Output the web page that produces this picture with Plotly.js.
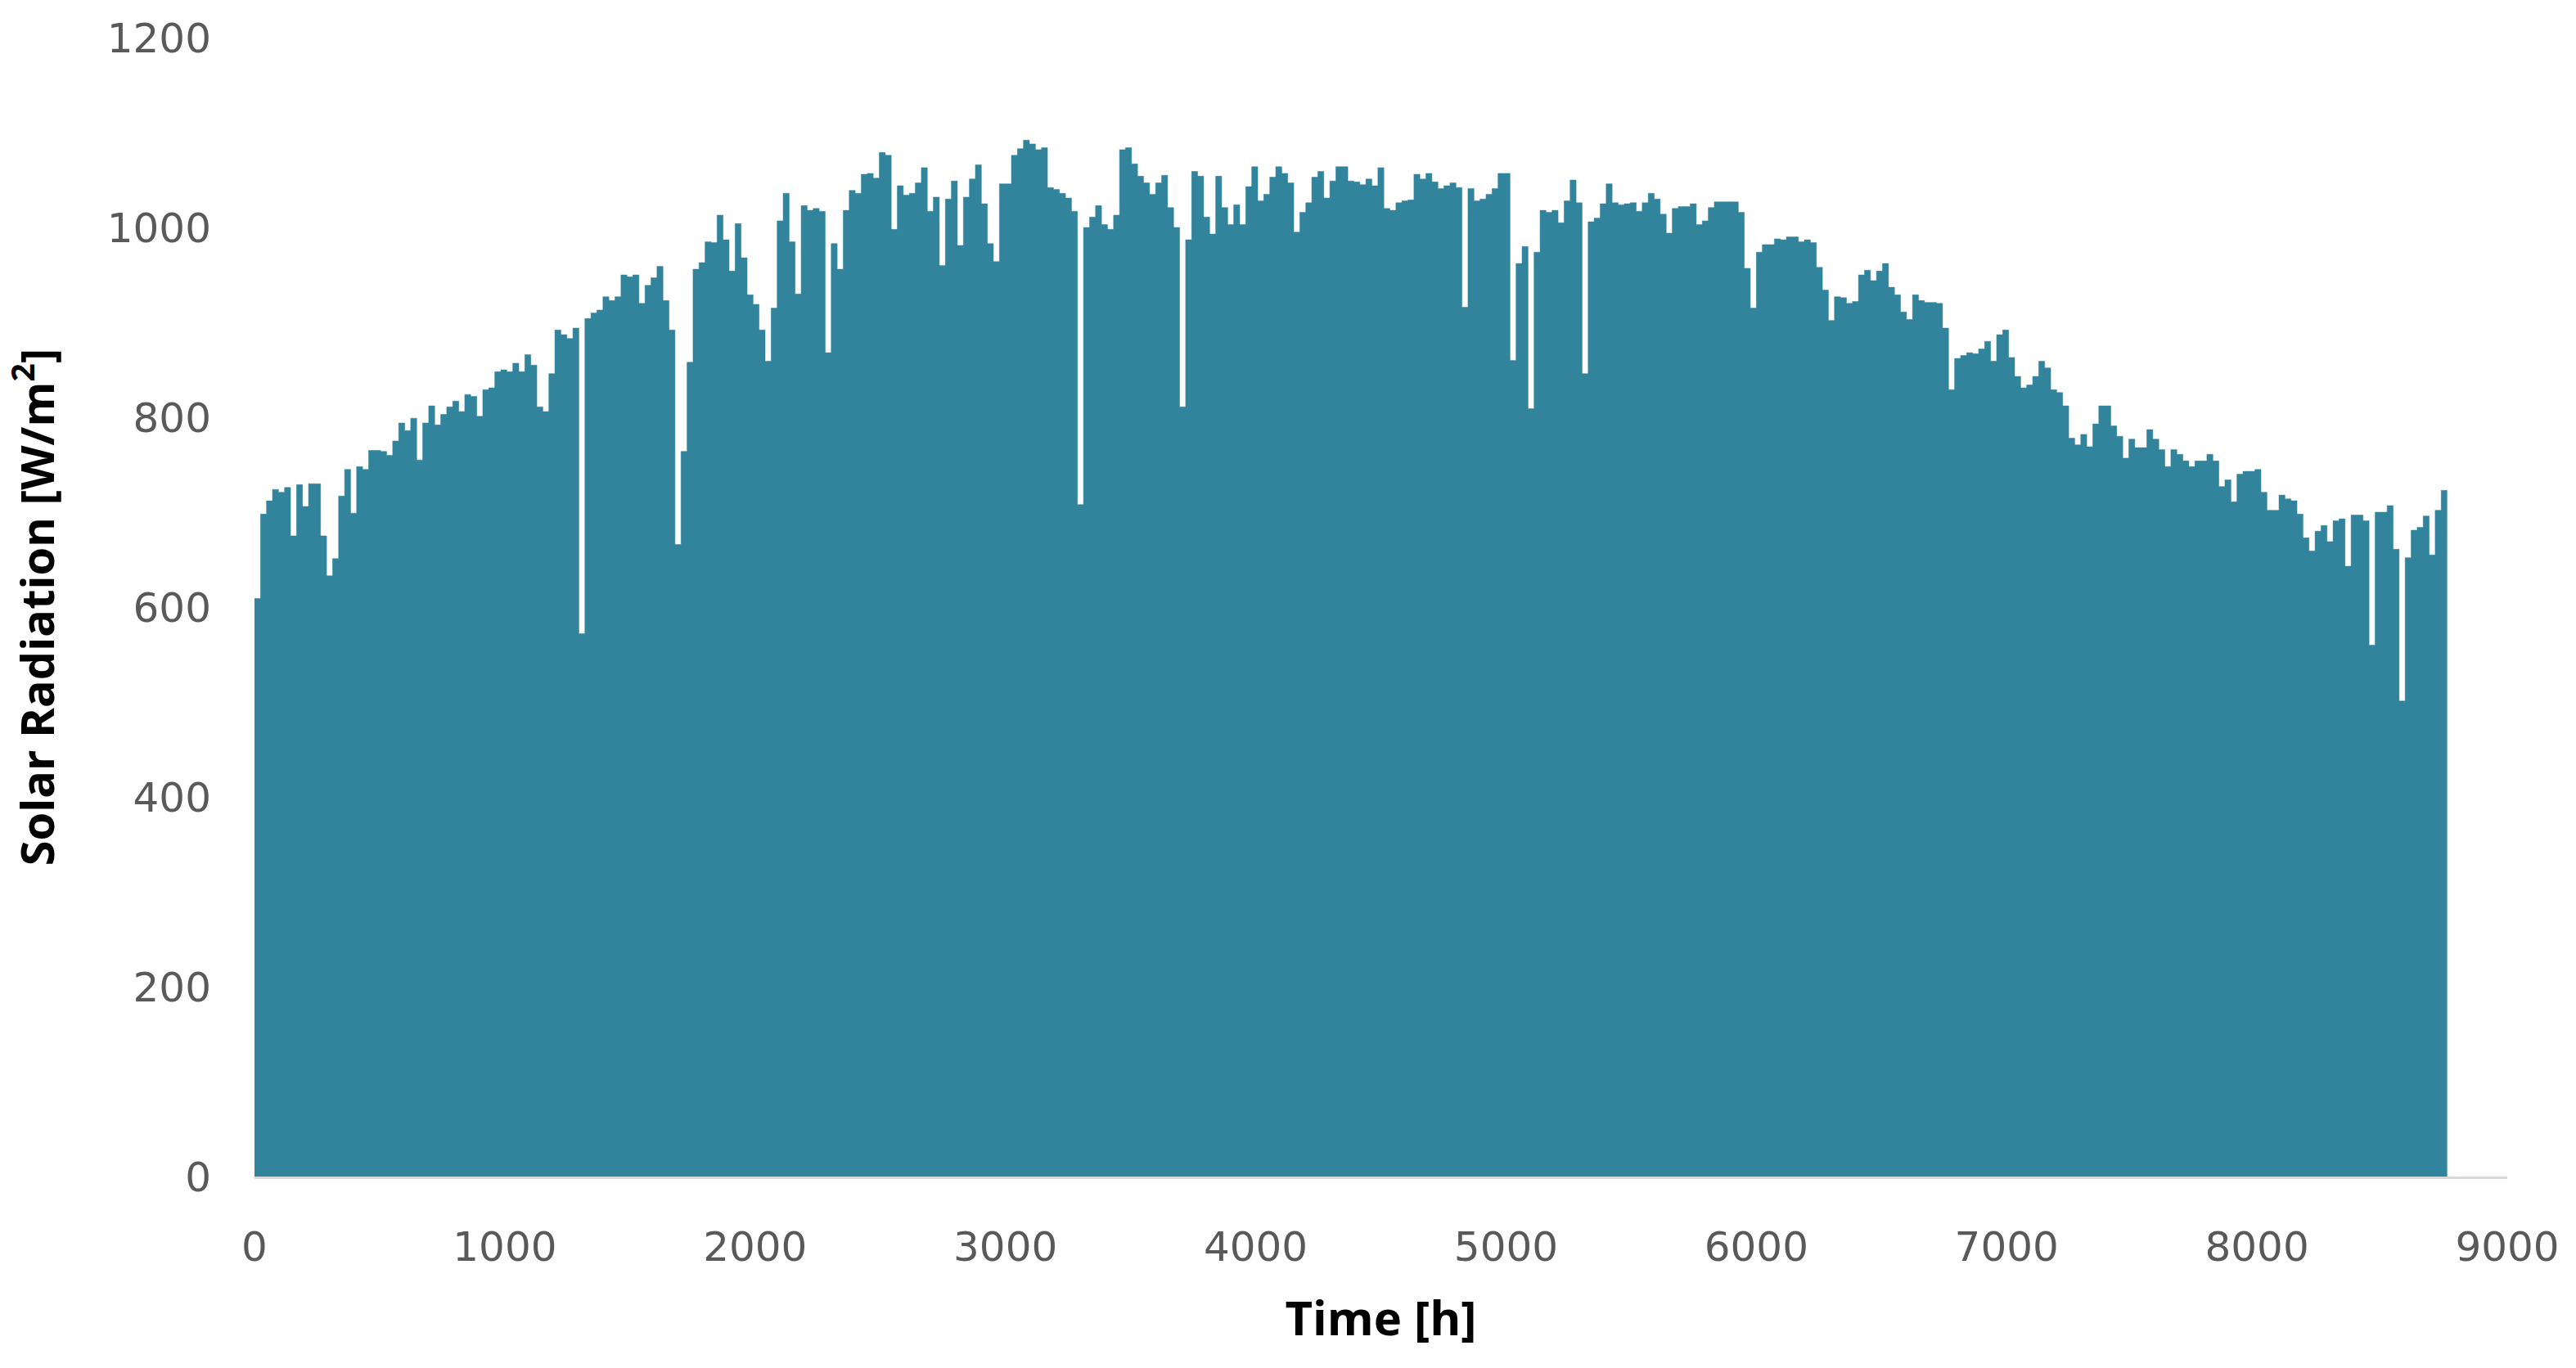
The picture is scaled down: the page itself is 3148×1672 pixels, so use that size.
<!DOCTYPE html>
<html>
<head>
<meta charset="utf-8">
<script src="https://cdn.plot.ly/plotly-3.0.1.min.js"></script>
<style>
  html, body { margin: 0; padding: 0; background: #fff; }
  #plot { width: 3148px; height: 1672px; }
</style>
</head>
<body>
<div id="plot"></div>
<script>
// daily peak of hourly solar radiation [W/m2], day 0 .. day 364
const dayPeak = [
    609, 698, 712, 724, 721, 726, 675, 729, 706, 730,
    730, 675, 633, 651, 717, 745, 699, 748, 745, 765,
    765, 764, 760, 775, 794, 786, 799, 755, 794, 812,
    792, 803, 811, 817, 806, 824, 822, 801, 829, 831,
    848, 850, 848, 857, 848, 866, 855, 811, 806, 846,
    892, 887, 883, 894, 572, 904, 910, 913, 927, 923,
    927, 950, 948, 950, 920, 939, 947, 959, 923, 892,
    666, 764, 858, 956, 963, 985, 984, 1013, 987, 954,
    1004, 968, 929, 919, 892, 859, 915, 1007, 1036, 985,
    930, 1023, 1018, 1020, 1017, 868, 983, 956, 1018, 1039,
    1036, 1056, 1057, 1052, 1079, 1076, 998, 1044, 1034, 1036,
    1047, 1063, 1017, 1032, 960, 1030, 1049, 981, 1032, 1051,
    1066, 1025, 983, 964, 1046, 1046, 1076, 1083, 1092, 1088,
    1082, 1084, 1042, 1040, 1036, 1031, 1017, 708, 1000, 1011,
    1023, 1003, 998, 1013, 1082, 1084, 1067, 1054, 1047, 1035,
    1047, 1055, 1021, 1000, 811, 987, 1059, 1054, 1011, 993,
    1054, 1021, 1003, 1024, 1003, 1043, 1064, 1028, 1035, 1053,
    1064, 1057, 1047, 995, 1016, 1026, 1053, 1059, 1031, 1049,
    1064, 1064, 1049, 1048, 1045, 1051, 1044, 1063, 1020, 1018,
    1026, 1028, 1029, 1056, 1051, 1057, 1048, 1041, 1044, 1047,
    1042, 916, 1041, 1028, 1030, 1035, 1041, 1057, 1057, 860,
    962, 980, 809, 974, 1018, 1016, 1018, 1005, 1028, 1050,
    1026, 846, 1006, 1010, 1025, 1046, 1026, 1024, 1025, 1026,
    1017, 1026, 1036, 1030, 1014, 994, 1020, 1022, 1022, 1025,
    1003, 1007, 1021, 1027, 1027, 1027, 1027, 1016, 957, 915,
    974, 982, 982, 988, 987, 990, 990, 985, 987, 984,
    958, 934, 902, 927, 926, 920, 922, 950, 955, 944,
    954, 962, 937, 929, 911, 903, 929, 923, 921, 921,
    920, 894, 829, 862, 865, 868, 867, 872, 880, 859,
    887, 892, 863, 843, 831, 834, 843, 859, 852, 829,
    826, 812, 778, 771, 782, 769, 793, 812, 812, 791,
    780, 757, 777, 768, 768, 787, 777, 766, 748, 766,
    761, 754, 748, 754, 754, 761, 754, 727, 734, 711,
    740, 743, 743, 745, 721, 702, 702, 718, 714, 712,
    698, 673, 659, 680, 686, 669, 691, 693, 643, 697,
    697, 691, 560, 700, 700, 707, 661, 501, 652, 681,
    684, 696, 655, 702, 723
];

const HOURS_PER_DAY = 24;
const xTickVals = [0, 1000, 2000, 3000, 4000, 5000, 6000, 7000, 8000, 9000];
const yTickVals = [0, 200, 400, 600, 800, 1000, 1200];

const fillColor = '#31849B';
const tickGrey = '#595959';

// step outline: each day holds its peak, last point closes the year
const stepHours = dayPeak.map((_, i) => i * HOURS_PER_DAY);
stepHours.push(dayPeak.length * HOURS_PER_DAY);
const stepValues = dayPeak.concat([dayPeak[dayPeak.length - 1]]);

const trace = {
    x: stepHours,
    y: stepValues,
    type: 'scatter',
    mode: 'lines',
    line: { color: fillColor, width: 0.5, shape: 'hv' },
    fill: 'tozeroy',
    fillcolor: fillColor,
    hoverinfo: 'x+y'
};

const layout = {
    width: 3148,
    height: 1672,
    paper_bgcolor: '#ffffff',
    plot_bgcolor: '#ffffff',
    margin: { t: 46, r: 84, b: 234, l: 311 },
    showlegend: false,
    font: { family: 'DejaVu Sans, sans-serif', color: tickGrey },
    xaxis: {
        range: [0, 9000],
        tickvals: xTickVals,
        ticktext: xTickVals.map(String),
        showgrid: false,
        zeroline: false,
        showline: true,
        linecolor: '#d9d9d9',
        linewidth: 3,
        layer: 'below traces',
        ticks: '',
        ticklabelstandoff: 40,
        tickfont: { family: 'DejaVu Sans, sans-serif', size: 50, color: tickGrey },
        title: {
            text: 'Time [h]',
            standoff: 40,
            font: { family: 'Open Sans, sans-serif', size: 58, color: '#000000', weight: 'bold' }
        }
    },
    yaxis: {
        range: [0, 1200],
        tickvals: yTickVals,
        ticktext: yTickVals.map(String),
        showgrid: false,
        zeroline: false,
        showline: false,
        ticks: '',
        ticklabelstandoff: 52,
        tickfont: { family: 'DejaVu Sans, sans-serif', size: 50, color: tickGrey },
        title: {
            text: 'Solar Radiation [W/m<sup>2</sup>]',
            standoff: 135,
            font: { family: 'Open Sans, sans-serif', size: 56, color: '#000000', weight: 'bold' }
        }
    }
};

Plotly.newPlot('plot', [trace], layout, { displayModeBar: false, staticPlot: true });
</script>
</body>
</html>
